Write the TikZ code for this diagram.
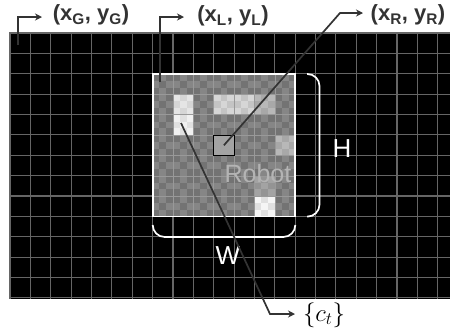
\documentclass[tikz,border=0pt]{standalone}
\usepackage{fontspec}
\setmainfont{Liberation Sans}
\usepackage{amsmath}
\usetikzlibrary{positioning,arrows.meta,calc}
\definecolor{gridgray}{HTML}{666666}
\definecolor{linegray}{HTML}{333333}
\definecolor{cellDark}{HTML}{737373}
\definecolor{cellLight}{HTML}{868686}
\definecolor{robotText}{HTML}{B4B4B4}
\tikzset{
  gridline/.style={draw=gridgray, line width=1.1pt},
  celline/.style={draw=white!60!black, line width=0.7pt},
  pointer/.style={-{Stealth[length=7pt,width=7pt]}, line width=1.7pt, draw=linegray},
  bracket/.style={draw=white, line width=1.7pt, rounded corners=12pt},
  poselabel/.style={font=\fontsize{22}{22}\selectfont\bfseries, text=linegray, inner sep=0pt},
  sizelabel/.style={font=\fontsize{26}{26}\selectfont, text=white, inner sep=0pt},
  markcell/.style={draw=black, line width=1pt, fill=white!64!black, minimum size=20.4pt, inner sep=0pt}
}
% one cell as 3x3 checks: #1 col, #2 row, #3 dark, #4 light
\newcommand{\checkcell}[4]{
  \fill[#3] ({152.7+#1*20.37},{74+#2*20.37}) rectangle ++(20.37,20.37);
  \foreach \i/\j in {1/0,0/1,2/1,1/2}
    \fill[#4] ({152.7+#1*20.37+\i*6.79},{74+#2*20.37+\j*6.79}) rectangle ++(6.79,6.79);
}
\begin{document}
\begin{tikzpicture}[x=1pt,y=-1pt]
\useasboundingbox (0,0) rectangle (450,333);
% global map
\fill[black] (9,33) rectangle (450,299);
\foreach \n in {0,...,21}
  \draw[gridline] ({10+\n*20.37},33) -- ({10+\n*20.37},299);
\foreach \n in {0,...,13}
  \draw[gridline] (9,{33+\n*20.37}) -- (450,{33+\n*20.37});
% local map
\foreach \c in {0,...,6}
  \foreach \r in {0,...,6}
    \checkcell{\c}{\r}{cellDark}{cellLight};
\checkcell{1}{1}{white!90!black}{white!84!black}
\checkcell{3}{1}{white!84!black}{white!77!black}
\checkcell{4}{1}{white!84!black}{white!77!black}
\checkcell{5}{1}{white!72!black}{white!66!black}
\checkcell{1}{2}{white!94!black}{white!88!black}
\checkcell{6}{3}{white!72!black}{white!66!black}
\checkcell{5}{5}{white!64!black}{white!58!black}
\checkcell{5}{6}{white!96!black}{white!88!black}
\foreach \n in {1,...,6} {
  \draw[celline] ({152.7+\n*20.37},74) -- ({152.7+\n*20.37},216.6);
  \draw[celline] (152.7,{74+\n*20.37}) -- (295.3,{74+\n*20.37});
}
\node[markcell] (rcell) at (223.9,145.3) {};
\draw[white, line width=1.7pt] (152.7,74) rectangle (295.3,216.6);
\node[font=\fontsize{25}{25}\selectfont, text=robotText, inner sep=0pt] (robot) at (258,174) {Robot};
% size brackets
\draw[bracket] (307,74) -- (319.5,74) -- (319.5,216.6) -- (307,216.6);
\draw[bracket] (152.7,225) -- (152.7,237) -- (295.3,237) -- (295.3,225);
\node[sizelabel] (hlabel) at (342,149) {H};
\node[sizelabel] (wlabel) at (228,256) {W};
% labels
\node[poselabel] (global) at (91,15) {(x\textsubscript{G}, y\textsubscript{G})};
\node[poselabel] (local) at (233,16) {(x\textsubscript{L}, y\textsubscript{L})};
\node[poselabel] (robotpose) at (408,15) {(x\textsubscript{R}, y\textsubscript{R})};
\node[inner sep=0pt, font=\fontsize{24}{24}\selectfont] (cells) at (324,315) {$\{c_t\}$};
% pointers
\coordinate (gstart) at (18,45);
\coordinate (gend) at (42,17);
\coordinate (lstart) at (160,82);
\coordinate (lend) at (184,17);
\coordinate (rbend) at (340,13);
\coordinate (rend) at (363,13);
\coordinate (cstart) at (181,123);
\coordinate (cbend) at (270,314);
\coordinate (cend) at (295,314);
\draw[pointer] (gstart) |- (gend);
\draw[pointer] (lstart) |- (lend);
\draw[pointer] (rcell.center) -- (rbend) -- (rend);
\draw[pointer] (cstart) -- (cbend) -- (cend);
\end{tikzpicture}
\end{document}
